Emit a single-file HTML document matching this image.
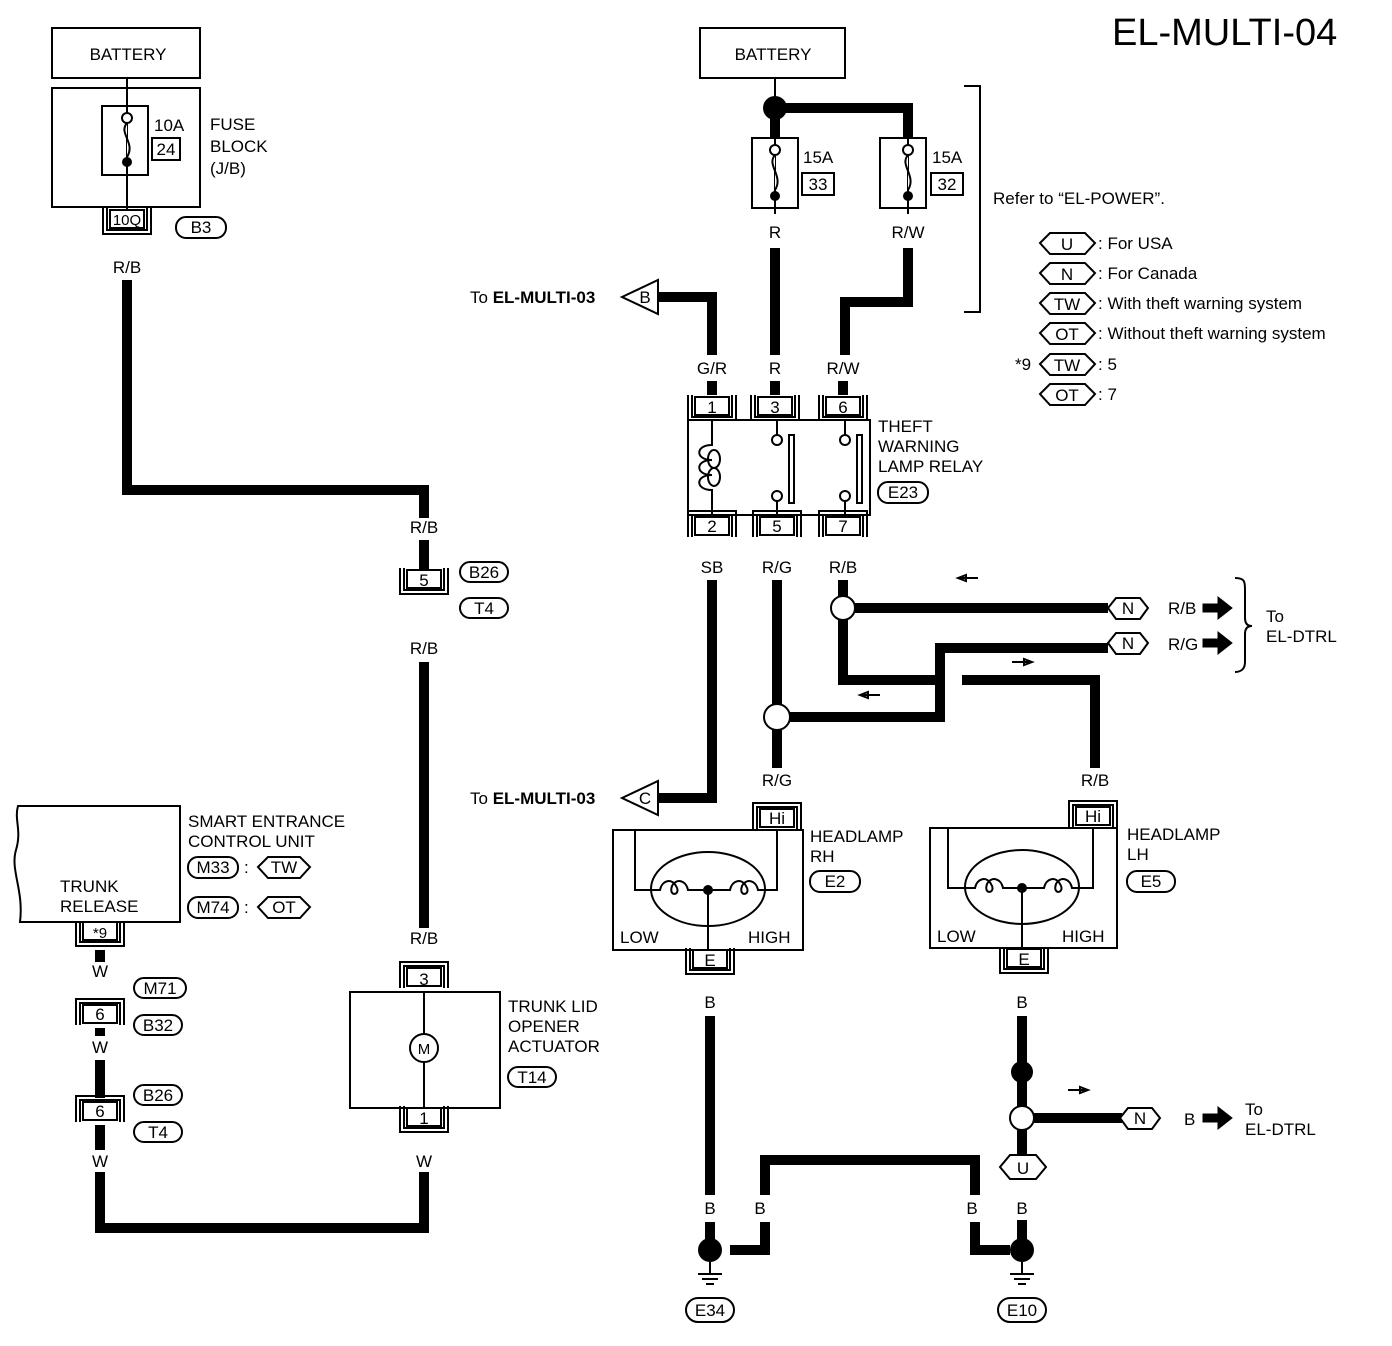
<!DOCTYPE html>
<html><head><meta charset="utf-8"><style>
html,body{margin:0;padding:0;background:#fff;}
svg{display:block;}
text{font-family:"Liberation Sans",Arial,sans-serif;font-size:17px;fill:#000;}
.w{stroke:#000;stroke-width:10;fill:none;stroke-linejoin:miter;}
.t{stroke:#000;stroke-width:2;fill:none;}
.tw{stroke:#000;stroke-width:2;fill:#fff;}
.c{text-anchor:middle;}
</style></head><body>
<svg width="1392" height="1346" viewBox="0 0 1392 1346" xmlns="http://www.w3.org/2000/svg">
<defs>
<g id="conn"><path d="M-24,-4 V22 H24 V-4" class="t"/><path d="M-20,-4 V18 H20 V-4" class="t"/><rect x="-17" y="-2" width="34" height="18" class="tw"/></g>
<g id="connU"><path d="M-24,22 V-4 H24 V22" class="t"/><path d="M-20,22 V0 H20 V22" class="t"/><rect x="-17" y="2" width="34" height="18" class="tw"/></g>
</defs>
<text x="1112" y="45" style="font-size:38px">EL-MULTI-04</text>

<!-- LEFT SIDE -->
<rect x="52" y="28" width="148" height="50" class="tw"/>
<text x="128" y="60" class="c">BATTERY</text>
<line x1="127" y1="78" x2="127" y2="88" class="t"/>
<rect x="52" y="88" width="148" height="119" class="tw"/>
<rect x="102" y="106" width="46" height="69" class="tw"/>
<line x1="127" y1="88" x2="127" y2="212" class="t"/>
<circle cx="127" cy="118" r="5" class="tw"/><circle cx="127" cy="162" r="5" fill="#000"/>
<path d="M127,123 C118,133 136,143 127,157" class="tw"/>
<text x="154" y="131">10A</text>
<rect x="152" y="138" width="28" height="22" class="tw"/><text x="166" y="155" class="c">24</text>
<text x="210" y="130">FUSE</text><text x="210" y="152">BLOCK</text><text x="210" y="174">(J/B)</text>
<g transform="translate(127,212)"><use href="#conn"/><text y="13" class="c" style="font-size:15px">10Q</text></g>
<rect x="176" y="217" width="50" height="21" rx="10" class="tw"/><text x="201" y="233" class="c">B3</text>
<text x="127" y="273" class="c">R/B</text>
<path d="M127,280 V490 H424 V518" class="w"/>
<text x="424" y="533" class="c">R/B</text>
<path d="M424,540 V570" class="w"/>
<g transform="translate(424,572)"><use href="#conn"/><text y="14" class="c">5</text></g>
<rect x="460" y="562" width="48" height="20" rx="10" class="tw"/><text x="484" y="578" class="c">B26</text>
<rect x="460" y="598" width="48" height="20" rx="10" class="tw"/><text x="484" y="614" class="c">T4</text>
<text x="424" y="654" class="c">R/B</text>
<path d="M424,662 V928" class="w"/>
<text x="424" y="944" class="c">R/B</text>
<g transform="translate(424,966)"><use href="#connU"/><text y="19" class="c">3</text></g>
<rect x="350" y="992" width="150" height="116" class="tw"/>
<line x1="424" y1="992" x2="424" y2="1108" class="t"/>
<circle cx="424" cy="1048" r="14" class="tw"/><text x="424" y="1054" class="c" style="font-size:15px">M</text>
<text x="508" y="1012">TRUNK LID</text><text x="508" y="1032">OPENER</text><text x="508" y="1052">ACTUATOR</text>
<rect x="508" y="1067" width="48" height="20" rx="10" class="tw"/><text x="532" y="1083" class="c">T14</text>
<g transform="translate(424,1110)"><use href="#conn"/><text y="14" class="c">1</text></g>
<text x="424" y="1167" class="c">W</text>
<path d="M424,1172 V1228 H100 V1172" class="w"/>
<text x="100" y="1167" class="c">W</text>
<path d="M100,1125 V1150" class="w"/>
<g transform="translate(100,1100)"><use href="#connU"/><text y="17" class="c">6</text></g>
<rect x="134" y="1085" width="48" height="20" rx="10" class="tw"/><text x="158" y="1101" class="c">B26</text>
<rect x="134" y="1122" width="48" height="20" rx="10" class="tw"/><text x="158" y="1138" class="c">T4</text>
<text x="100" y="1053" class="c">W</text>
<path d="M100,1028 V1036 M100,1060 V1098" class="w"/>
<g transform="translate(100,1003)"><use href="#connU"/><text y="17" class="c">6</text></g>
<rect x="134" y="978" width="52" height="20" rx="10" class="tw"/><text x="160" y="994" class="c">M71</text>
<rect x="134" y="1015" width="48" height="20" rx="10" class="tw"/><text x="158" y="1031" class="c">B32</text>
<text x="100" y="977" class="c">W</text>
<path d="M100,950 V962" class="w"/>
<g transform="translate(100,924)"><use href="#conn"/><text y="14" class="c" style="font-size:15px">*9</text></g>
<path d="M180,806 V922 H20 C24,890 10,870 16,850 C22,830 14,820 18,806 Z" class="tw"/>
<text x="60" y="892">TRUNK</text><text x="60" y="912">RELEASE</text>
<text x="188" y="827">SMART ENTRANCE</text><text x="188" y="847">CONTROL UNIT</text>
<rect x="188" y="857" width="50" height="21" rx="10" class="tw"/><text x="213" y="873" class="c">M33</text>
<text x="244" y="873">:</text>
<path d="M258,867 L268,857 H300 L310,867 L300,878 H268 Z" class="tw"/><text x="284" y="873" class="c">TW</text>
<rect x="188" y="897" width="50" height="21" rx="10" class="tw"/><text x="213" y="913" class="c">M74</text>
<text x="244" y="913">:</text>
<path d="M258,907 L268,897 H300 L310,907 L300,918 H268 Z" class="tw"/><text x="284" y="913" class="c">OT</text>

<!-- RIGHT SIDE -->
<rect x="700" y="28" width="145" height="50" class="tw"/>
<text x="773" y="60" class="c">BATTERY</text>
<line x1="775" y1="78" x2="775" y2="100" class="t"/>
<path d="M775,108 H908 V140" class="w"/>
<circle cx="775" cy="108" r="12" fill="#000"/>
<line x1="775" y1="108" x2="775" y2="140" class="w"/>
<rect x="752" y="138" width="46" height="70" class="tw"/>
<line x1="775" y1="138" x2="775" y2="214" class="t"/>
<circle cx="775" cy="150" r="5" class="tw"/><circle cx="775" cy="196" r="5" fill="#000"/>
<path d="M775,155 C766,165 784,176 775,190" class="tw"/>
<text x="803" y="163">15A</text><rect x="802" y="173" width="32" height="22" class="tw"/><text x="818" y="190" class="c">33</text>
<rect x="880" y="138" width="46" height="70" class="tw"/>
<line x1="908" y1="138" x2="908" y2="214" class="t"/>
<circle cx="908" cy="150" r="5" class="tw"/><circle cx="908" cy="196" r="5" fill="#000"/>
<path d="M908,155 C899,165 917,176 908,190" class="tw"/>
<text x="932" y="163">15A</text><rect x="931" y="173" width="32" height="22" class="tw"/><text x="947" y="190" class="c">32</text>
<text x="775" y="238" class="c">R</text><text x="908" y="238" class="c">R/W</text>
<path d="M775,248 V355" class="w"/>
<path d="M908,248 V302 H845 V355" class="w"/>
<path d="M964,86 H980 V312 H964" class="t"/>
<text x="993" y="204">Refer to “EL-POWER”.</text>
<!-- legend -->
<g>
<path d="M1040,243 L1050,233 H1085 L1095,243 L1085,254 H1050 Z" class="tw"/><text x="1067" y="250" class="c">U</text><text x="1098" y="249">: For USA</text>
<path d="M1040,273 L1050,263 H1085 L1095,273 L1085,284 H1050 Z" class="tw"/><text x="1067" y="280" class="c">N</text><text x="1098" y="279">: For Canada</text>
<path d="M1040,303 L1050,293 H1085 L1095,303 L1085,314 H1050 Z" class="tw"/><text x="1067" y="310" class="c">TW</text><text x="1098" y="309">: With theft warning system</text>
<path d="M1040,333 L1050,323 H1085 L1095,333 L1085,344 H1050 Z" class="tw"/><text x="1067" y="340" class="c">OT</text><text x="1098" y="339">: Without theft warning system</text>
<text x="1015" y="370">*9</text>
<path d="M1040,364 L1050,354 H1085 L1095,364 L1085,375 H1050 Z" class="tw"/><text x="1067" y="371" class="c">TW</text><text x="1098" y="370">: 5</text>
<path d="M1040,394 L1050,384 H1085 L1095,394 L1085,405 H1050 Z" class="tw"/><text x="1067" y="401" class="c">OT</text><text x="1098" y="400">: 7</text>
</g>
<!-- G/R -->
<path d="M650,297 H712 V355" class="w"/>
<path d="M622,297 L658,280 V314 Z" class="tw"/><text x="645" y="303" class="c">B</text>
<text x="470" y="303">To <tspan style="font-weight:bold">EL-MULTI-03</tspan></text>
<text x="712" y="374" class="c">G/R</text><text x="775" y="374" class="c">R</text><text x="843" y="374" class="c">R/W</text>
<path d="M712,381 V395 M775,381 V395 M843,381 V395" class="w"/>
<!-- relay -->
<g transform="translate(712,399)"><use href="#conn"/><text y="14" class="c">1</text></g>
<g transform="translate(775,399)"><use href="#conn"/><text y="14" class="c">3</text></g>
<g transform="translate(843,399)"><use href="#conn"/><text y="14" class="c">6</text></g>
<rect x="688" y="420" width="182" height="95" class="tw"/>
<path d="M712,420 V445 C695,445 695,460 712,460 C695,460 695,475 712,475 C695,475 695,490 712,490 V515" class="t"/>
<ellipse cx="714" cy="459" rx="6" ry="9" class="t"/><ellipse cx="714" cy="477" rx="6" ry="9" class="t"/>
<line x1="777" y1="420" x2="777" y2="435" class="t"/><circle cx="777" cy="440" r="5" class="tw"/>
<line x1="777" y1="515" x2="777" y2="501" class="t"/><circle cx="777" cy="496" r="5" class="tw"/>
<rect x="789" y="435" width="5" height="68" class="tw"/>
<line x1="845" y1="420" x2="845" y2="435" class="t"/><circle cx="845" cy="440" r="5" class="tw"/>
<line x1="845" y1="515" x2="845" y2="501" class="t"/><circle cx="845" cy="496" r="5" class="tw"/>
<rect x="857" y="435" width="5" height="68" class="tw"/>
<text x="878" y="432">THEFT</text><text x="878" y="452">WARNING</text><text x="878" y="472">LAMP RELAY</text>
<rect x="878" y="482" width="50" height="21" rx="10" class="tw"/><text x="903" y="498" class="c">E23</text>
<g transform="translate(712,515)"><use href="#connU"/><text y="17" class="c">2</text></g>
<g transform="translate(777,515)"><use href="#connU"/><text y="17" class="c">5</text></g>
<g transform="translate(843,515)"><use href="#connU"/><text y="17" class="c">7</text></g>
<text x="712" y="573" class="c">SB</text><text x="777" y="573" class="c">R/G</text><text x="843" y="573" class="c">R/B</text>
<!-- SB -->
<path d="M712,580 V798 H655" class="w"/>
<path d="M622,798 L658,781 V815 Z" class="tw"/><text x="645" y="804" class="c">C</text>
<text x="470" y="804">To <tspan style="font-weight:bold">EL-MULTI-03</tspan></text>
<!-- R/G -->
<path d="M777,580 V704 M777,730 V768" class="w"/>
<circle cx="777" cy="717" r="13" class="tw"/>
<path d="M790,717 H940 V648 H1108" class="w"/>
<path d="M1108,643 L1116,633 H1140 L1148,643 L1140,654 H1116 Z" class="tw"/><text x="1128" y="649" class="c">N</text>
<text x="1168" y="650">R/G</text>
<path d="M1203,639 H1218 V632 L1232,643 L1218,654 V647 H1203 Z" fill="#000" stroke="#000"/>
<!-- R/B -->
<path d="M843,580 V596" class="w"/>
<circle cx="843" cy="608" r="12" class="tw"/>
<path d="M855,608 H1108" class="w"/>
<path d="M1108,608 L1116,598 H1140 L1148,608 L1140,619 H1116 Z" class="tw"/><text x="1128" y="614" class="c">N</text>
<text x="1168" y="614">R/B</text>
<path d="M1203,604 H1218 V597 L1232,608 L1218,619 V612 H1203 Z" fill="#000" stroke="#000"/>
<path d="M1235,578 C1245,578 1245,582 1245,590 V618 C1245,624 1248,626 1252,626 C1248,626 1245,628 1245,634 V662 C1245,668 1242,672 1235,672" class="t"/>
<text x="1266" y="622">To</text><text x="1266" y="642">EL-DTRL</text>
<path d="M843,620 V680 H935" class="w"/>
<path d="M962,680 H1095 V768" class="w"/>
<!-- small arrows -->
<path d="M958,578 H978 M958,578 L966,575 V581 Z" class="t" fill="#000"/>
<path d="M1012,662 H1032 M1032,662 L1024,659 V665 Z" class="t" fill="#000"/>
<path d="M860,695 H880 M860,695 L868,692 V698 Z" class="t" fill="#000"/>
<path d="M1068,1090 H1088 M1088,1090 L1080,1087 V1093 Z" class="t" fill="#000"/>
<text x="777" y="786" class="c">R/G</text><text x="1095" y="786" class="c">R/B</text>
<!-- headlamp RH -->
<g transform="translate(777,807)"><use href="#connU"/><text y="17" class="c">Hi</text></g>
<rect x="613" y="830" width="190" height="120" class="tw"/>
<ellipse cx="708" cy="889" rx="57" ry="37" class="t"/>
<path d="M635,830 V890 H660 C662,880 672,878 676,886 C682,895 668,898 672,886 C676,878 686,880 688,890 H730 C732,880 742,878 746,886 C752,895 738,898 742,886 C746,878 756,880 758,890 H777 V830" class="t"/>
<circle cx="708" cy="890" r="5" fill="#000"/>
<line x1="708" y1="890" x2="708" y2="955" class="t"/>
<text x="620" y="943">LOW</text><text x="748" y="943">HIGH</text>
<text x="810" y="842">HEADLAMP</text><text x="810" y="862">RH</text>
<rect x="810" y="871" width="50" height="21" rx="10" class="tw"/><text x="835" y="887" class="c">E2</text>
<g transform="translate(710,952)"><use href="#conn"/><text y="14" class="c">E</text></g>
<!-- headlamp LH -->
<g transform="translate(1093,805)"><use href="#connU"/><text y="17" class="c">Hi</text></g>
<rect x="930" y="828" width="187" height="120" class="tw"/>
<ellipse cx="1022" cy="887" rx="57" ry="37" class="t"/>
<path d="M948,828 V888 H975 C977,878 987,876 991,884 C997,893 983,896 987,884 C991,876 1001,878 1003,888 H1044 C1046,878 1056,876 1060,884 C1066,893 1052,896 1056,884 C1060,876 1070,878 1072,888 H1093 V828" class="t"/>
<circle cx="1022" cy="888" r="5" fill="#000"/>
<line x1="1022" y1="888" x2="1022" y2="953" class="t"/>
<text x="937" y="942">LOW</text><text x="1062" y="942">HIGH</text>
<text x="1127" y="840">HEADLAMP</text><text x="1127" y="860">LH</text>
<rect x="1127" y="871" width="48" height="21" rx="10" class="tw"/><text x="1151" y="887" class="c">E5</text>
<g transform="translate(1024,951)"><use href="#conn"/><text y="14" class="c">E</text></g>
<!-- ground RH -->
<text x="710" y="1008" class="c">B</text>
<path d="M710,1016 V1195 M710,1222 V1240" class="w"/>
<text x="710" y="1214" class="c">B</text>
<circle cx="710" cy="1250" r="12" fill="#000"/>
<path d="M730,1250 H765 V1222 M765,1195 V1160 H975 V1195 M975,1222 V1250 H1010" class="w"/>
<text x="760" y="1214" class="c">B</text><text x="972" y="1214" class="c">B</text>
<path d="M710,1262 V1274 M698,1274 H722 M702,1279 H718 M706,1284 H714" class="t"/>
<rect x="686" y="1298" width="48" height="24" rx="12" class="tw"/><text x="710" y="1316" class="c">E34</text>
<!-- ground LH -->
<text x="1022" y="1008" class="c">B</text>
<path d="M1022,1016 V1106" class="w"/>
<circle cx="1022" cy="1072" r="11" fill="#000"/>
<circle cx="1022" cy="1118" r="12" class="tw"/>
<path d="M1034,1118 H1122" class="w"/>
<path d="M1120,1118 L1128,1108 H1152 L1160,1118 L1152,1129 H1128 Z" class="tw"/><text x="1140" y="1124" class="c">N</text>
<text x="1184" y="1125">B</text>
<path d="M1203,1114 H1218 V1107 L1232,1118 L1218,1129 V1122 H1203 Z" fill="#000" stroke="#000"/>
<text x="1245" y="1115">To</text><text x="1245" y="1135">EL-DTRL</text>
<path d="M1022,1130 V1155" class="w"/>
<path d="M1000,1167 L1010,1155 H1036 L1046,1167 L1036,1179 H1010 Z" class="tw"/><text x="1023" y="1174" class="c">U</text>
<text x="1022" y="1214" class="c">B</text>
<path d="M1022,1220 V1240" class="w"/>
<circle cx="1022" cy="1250" r="12" fill="#000"/>
<path d="M1022,1262 V1274 M1010,1274 H1034 M1014,1279 H1030 M1018,1284 H1026" class="t"/>
<rect x="998" y="1298" width="48" height="24" rx="12" class="tw"/><text x="1022" y="1316" class="c">E10</text>
</svg>
</body></html>
